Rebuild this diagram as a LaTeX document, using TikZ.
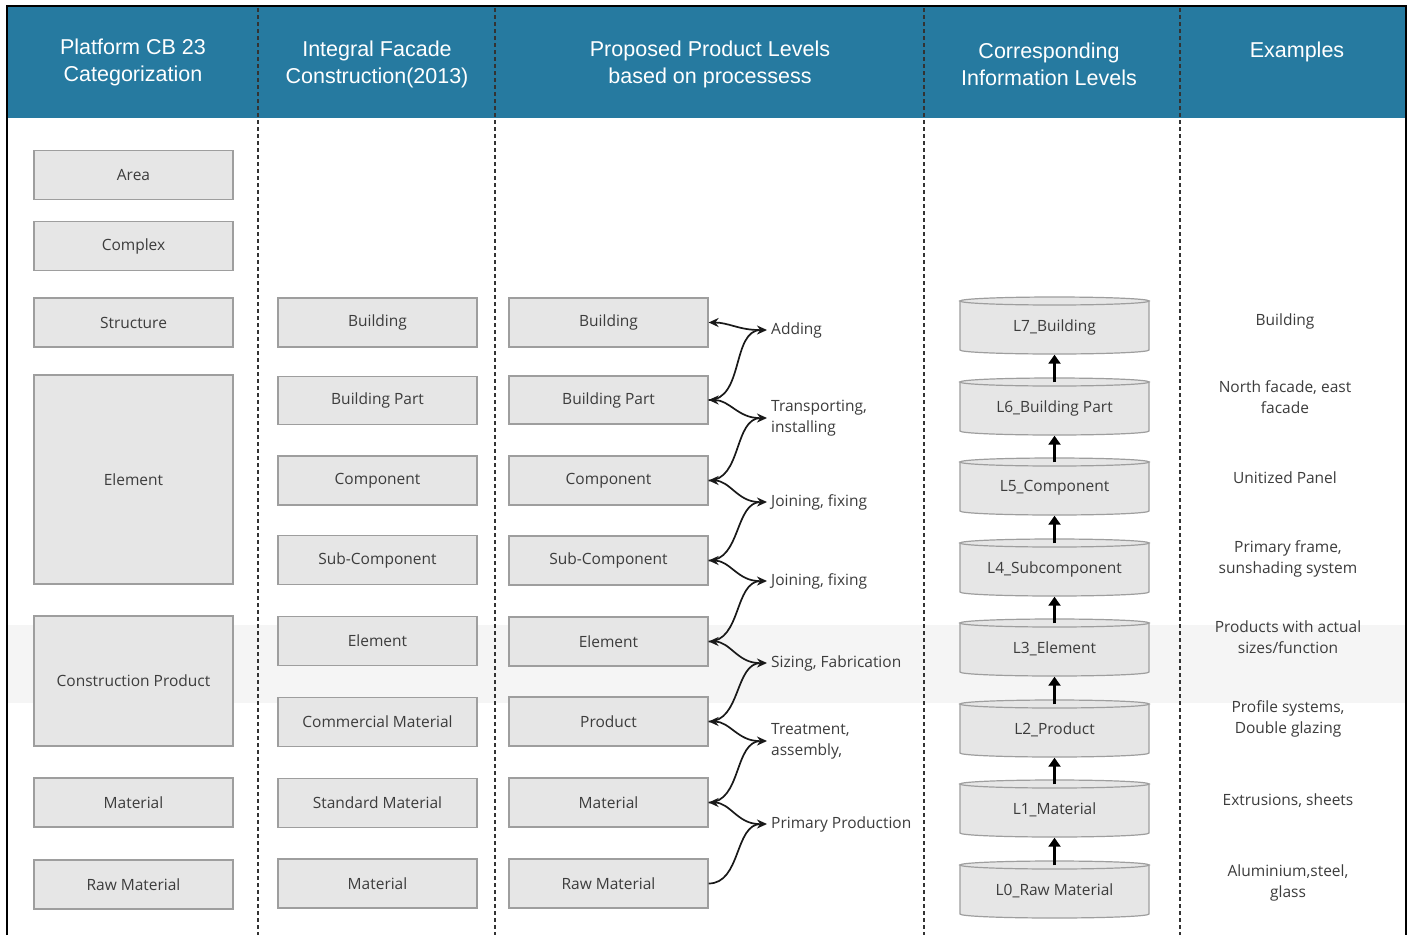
\documentclass[tikz,border=0pt]{standalone}
\usepackage{fontspec}
\setmainfont{Open Sans}
\newfontfamily\hdrfont{Liberation Sans}
\usetikzlibrary{arrows.meta}
\definecolor{hdr}{RGB}{38,122,160}
\definecolor{boxfill}{RGB}{230,230,230}
\definecolor{boxline}{RGB}{158,158,158}
\definecolor{band}{RGB}{245,245,245}
\definecolor{txt}{RGB}{60,60,60}
\begin{document}
\begin{tikzpicture}[x=1pt,y=-1pt,
  lvbox/.style={draw=boxline, fill=boxfill, line width=1.2pt, minimum width=199pt, minimum height=49pt, inner sep=0pt, font=\fontsize{15.5}{21}\selectfont, text=txt},
  hdrtxt/.style={text=white, font=\hdrfont\fontsize{21.5}{27}\selectfont, align=center},
  lbl/.style={anchor=west, font=\fontsize{15.5}{21}\selectfont, text=txt, align=left, inner ysep=0pt, inner xsep=4pt},
  extxt/.style={font=\fontsize{15.5}{21}\selectfont, text=txt, align=center},
  conn/.style={line width=1.7pt, draw=black!90},
  tipS/.style={-{Stealth[length=10pt,width=9pt]}},
  sepline/.style={dash pattern=on 4pt off 3pt, line width=1.1pt, draw=black!80},
  cylshape/.style={draw=boxline, fill=boxfill, line width=1.2pt},
  cyltext/.style={minimum width=189pt, minimum height=57pt, inner sep=0pt, font=\fontsize{15.5}{21}\selectfont, text=txt},
  cylarrow/.style={line width=2.5pt, -{Triangle[length=9pt,width=12pt]}},
]
\useasboundingbox (0,0) rectangle (1410,935);
\fill[white] (0,0) rectangle (1410,935);
\fill[band] (8,625) rectangle (1405,703);
\fill[hdr] (8,7) rectangle (1405,118);
\foreach \xx in {258,495,924,1180} \draw[sepline] (\xx,8) -- (\xx,935);
\draw[line width=2pt] (7,935) -- (7,6) -- (1406,6) -- (1406,935);

% headers
\node[hdrtxt] (h1) at (133,62.5) {Platform CB 23\\Categorization};
\node[hdrtxt] (h2) at (377,64.5) {Integral Facade\\Construction(2013)};
\node[hdrtxt] (h3) at (710,64.5) {Proposed Product Levels\\based on processess};
\node[hdrtxt] (h4) at (1049,64.5) {Corresponding\\Information Levels};
\node[hdrtxt] (h5) at (1297,52) {Examples};

% column 1
\node[lvbox] (a1) at (133.5,175) {Area};
\node[lvbox] (a2) at (133.5,246) {Complex};
\node[lvbox] (a3) at (133.5,322.5) {Structure};
\node[lvbox, minimum height=209pt] (a4) at (133.5,479.5) {Element};
\node[lvbox, minimum height=130pt] (a5) at (133.5,681) {Construction Product};
\node[lvbox] (a6) at (133.5,802.5) {Material};
\node[lvbox] (a7) at (133.5,884.5) {Raw Material};

% column 2
\node[lvbox] (b1) at (377.5,322.5) {Building};
\node[lvbox, minimum height=48pt] (b2) at (377.5,400.5) {Building Part};
\node[lvbox] (b3) at (377.5,480.5) {Component};
\node[lvbox] (b4) at (377.5,560) {Sub-Component};
\node[lvbox] (b5) at (377.5,641) {Element};
\node[lvbox] (b6) at (377.5,722) {Commercial Material};
\node[lvbox] (b7) at (377.5,803) {Standard Material};
\node[lvbox] (b8) at (377.5,883.5) {Material};

% column 3
\node[lvbox] (p1) at (608.5,322.5) {Building};
\node[lvbox, minimum height=48pt] (p2) at (608.5,400) {Building Part};
\node[lvbox] (p3) at (608.5,480.5) {Component};
\node[lvbox] (p4) at (608.5,560.5) {Sub-Component};
\node[lvbox] (p5) at (608.5,641.5) {Element};
\node[lvbox] (p6) at (608.5,721.5) {Product};
\node[lvbox] (p7) at (608.5,802.5) {Material};
\node[lvbox] (p8) at (608.5,883.5) {Raw Material};

% process labels
\node[lbl] (l1) at (767,330) {Adding};
\node[lbl] (l2) at (767,418) {Transporting,\\installing};
\node[lbl] (l3) at (767,502) {Joining, fixing};
\node[lbl] (l4) at (767,581) {Joining, fixing};
\node[lbl] (l5) at (767,663) {Sizing, Fabrication};
\node[lbl] (l6) at (767,741) {Treatment,\\assembly,};
\node[lbl] (l7) at (767,824) {Primary Production};

\foreach \i/\j in {1/2,2/3,3/4,4/5,5/6,6/7,7/8} {
  \draw[conn, tipS] (p\j.east) to[out=0,in=180] (l\i.west);
  \draw[conn, tipS] ([xshift=-8pt]l\i.west) to[out=180,in=0] (p\i.east);
}

% cylinders
\foreach \n/\t/\txt in {7/297/L7\_Building, 6/378/L6\_Building Part, 5/458/L5\_Component, 4/539/L4\_Subcomponent, 3/619/L3\_Element, 2/700/L2\_Product, 1/780/L1\_Material, 0/861/L0\_Raw Material} {
  \filldraw[cylshape] (960,\t+4) -- (960,\t+53) arc[start angle=180,end angle=0,x radius=94.5,y radius=4] -- (1149,\t+4) -- cycle;
  \filldraw[cylshape] (1054.5,\t+4) ellipse[x radius=94.5,y radius=4];
  \node[cyltext] (c\n) at (1054.5,\t+30) {\txt};
}
\foreach \i/\j in {0/1,1/2,2/3,3/4,4/5,5/6,6/7} {
  \draw[cylarrow] ([yshift=-3pt]c\i.north) -- ([yshift=1pt]c\j.south);
}

% examples
\node[extxt] (e7) at (1285,321) {Building};
\node[extxt] (e6) at (1285,397.5) {North facade, east\\facade};
\node[extxt] (e5) at (1285,478) {Unitized Panel};
\node[extxt] (e4) at (1288,558.5) {Primary frame,\\sunshading system};
\node[extxt] (e3) at (1288,637.5) {Products with actual\\sizes/function};
\node[extxt] (e2) at (1288,718.5) {Profile systems,\\Double glazing};
\node[extxt] (e1) at (1288,801) {Extrusions, sheets};
\node[extxt] (e0) at (1288,882.5) {Aluminium,steel,\\glass};
\end{tikzpicture}
\end{document}
